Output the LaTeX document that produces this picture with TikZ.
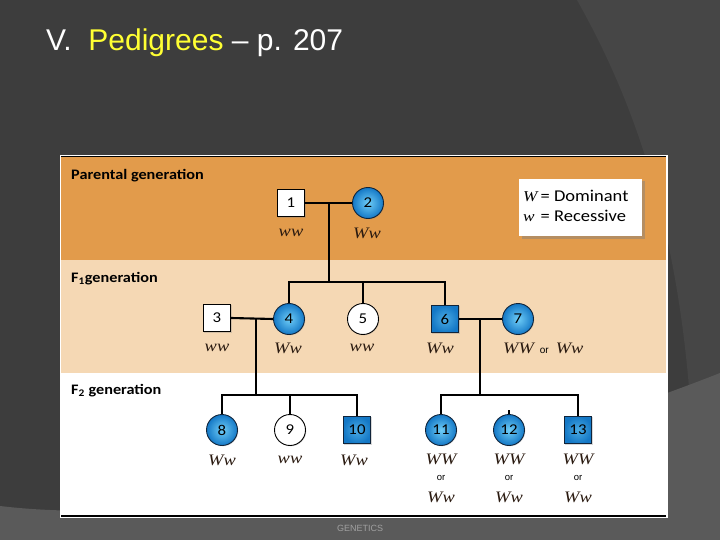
\documentclass[tikz,border=0pt]{standalone}
\usepackage{fontspec}
\newfontfamily\arialf{Liberation Sans}
\newfontfamily\labf{Carlito}[FakeStretch=1.12]
\newfontfamily\genof{Liberation Serif}[FakeStretch=1.15]
\usetikzlibrary{shadows}
\definecolor{bgdark}{HTML}{3D3D3D}
\definecolor{bgmid}{HTML}{464646}
\definecolor{bglight}{HTML}{5A5A5A}
\definecolor{orng}{HTML}{E29B4B}
\definecolor{peach}{HTML}{F5D8B4}
\definecolor{blueA}{HTML}{1478C6}
\definecolor{blueB}{HTML}{6FCDF7}
\definecolor{navyd}{HTML}{10243A}
\definecolor{ttl}{HTML}{FFFF33}
\definecolor{footc}{HTML}{A0A0A0}
\definecolor{genoc}{HTML}{2A1A10}
\begin{document}
\begin{tikzpicture}[x=1pt,y=-1pt,
  base/.style={inner sep=0pt, font=\labf\fontsize{15}{15}\selectfont, line width=0.9pt},
  sqbox/.style={base, rectangle, minimum size=27.5pt},
  circbox/.style={base, circle, minimum size=31pt},
  bluec/.style={inner color=blueB, outer color=blueA, draw=navyd},
  blues/.style={inner color=blueB!60!blueA, outer color=blueA, draw=navyd},
  whitef/.style={fill=white, draw=black},
  shad/.style={drop shadow={opacity=0.3, shadow xshift=0.8pt, shadow yshift=-0.8pt}},
  geno/.style={font=\genof\fontsize{16}{16}\selectfont\itshape, text=genoc, inner sep=0pt},
  orf/.style={font=\arialf\fontsize{9.5}{10}\selectfont, inner sep=0pt},
  genlab/.style={font=\labf\bfseries\fontsize{14.5}{15}\selectfont, anchor=base west, inner sep=0pt},
  conn/.style={line width=1.2pt, draw=black},
  thk/.style={line width=2.1pt, draw=black}
]
\useasboundingbox (0,0) rectangle (720,540);
% background
\fill[bgdark] (0,0) rectangle (720,540);
\fill[bgmid] (577,0) .. controls (622,80) and (675,200) .. (690,400) -- (720,400) -- (720,0) -- cycle;
\fill[bglight] (0,506) .. controls (200,530) and (500,460) .. (720,373) -- (720,540) -- (0,540) -- cycle;
% title and footer
\node[anchor=base west, inner sep=0pt, font=\arialf\fontsize{30}{36}\selectfont, text=white] (title) at (46,51) {V.\ \ \textcolor{ttl}{Pedigrees} – p. 207};
\node[font=\arialf\fontsize{9}{9}\selectfont, text=footc, inner sep=0pt] (foot) at (360,528) {GENETICS};
% panel
\fill[white] (60,155) rectangle (668,518);
\fill[orng] (61,157) rectangle (666,260);
\fill[peach] (61,260) rectangle (666,373);
\draw[line width=1.5pt] (61,156.5) -- (666,156.5);
\draw[line width=2pt] (61,516) -- (666,516);
% generation labels
\node[genlab] (lp) at (71,180) {Parental generation};
\node[genlab] (lf1) at (71,282) {F\textsubscript{1}generation};
\node[genlab] (lf2) at (71,394) {F\textsubscript{2} generation};
% legend
\node[fill=white, minimum width=123pt, minimum height=57pt, inner sep=0pt,
      drop shadow={opacity=0.45, shadow xshift=2.5pt, shadow yshift=-2.5pt}] (legend) at (580.5,207.5) {};
\node[anchor=base west, inner sep=0pt, font=\labf\fontsize{16.5}{16.5}\selectfont] (leg1) at (523,202)
  {\makebox[17.5pt][l]{\genof\fontsize{15}{15}\selectfont\itshape W}= Dominant};
\node[anchor=base west, inner sep=0pt, font=\labf\fontsize{16.5}{16.5}\selectfont] (leg2) at (523,222)
  {\makebox[17.5pt][l]{\genof\fontsize{15}{15}\selectfont\itshape w}= Recessive};
% parental
\node[sqbox, whitef, shad] (n1) at (291,203) {1};
\node[circbox, bluec, shad] (n2) at (368,203) {2};
\node[geno] (g1) at (291,233) {ww};
\node[geno] (g2) at (367,233) {Ww};
% F1
\node[sqbox, whitef, shad] (n3) at (217,318) {3};
\node[circbox, bluec, shad] (n4) at (289,319) {4};
\node[circbox, whitef, shad] (n5) at (363,319) {5};
\node[sqbox, blues, shad] (n6) at (445,319) {6};
\node[circbox, bluec, shad] (n7) at (518,319) {7};
\node[geno] (g3) at (217,348) {ww};
\node[geno] (g4) at (288,348) {Ww};
\node[geno] (g5) at (362,348) {ww};
\node[geno] (g6) at (440,348) {Ww};
\node[anchor=west, inner sep=0pt] (g7) at (503,348) {{\genof\fontsize{16}{16}\selectfont\itshape\color{genoc}WW}\hspace{6pt}{\arialf\fontsize{10}{10}\selectfont or}\hspace{7pt}{\genof\fontsize{16}{16}\selectfont\itshape\color{genoc}Ww}};
% F2
\node[circbox, bluec, shad] (n8) at (222,430) {8};
\node[circbox, whitef, shad] (n9) at (290,430) {9};
\node[sqbox, blues, shad] (n10) at (357,430) {10};
\node[circbox, bluec, shad] (n11) at (441,430) {11};
\node[circbox, bluec, shad] (n12) at (509,430) {12};
\node[sqbox, blues, shad] (n13) at (578,430) {13};
\node[geno] (g8) at (222,460) {Ww};
\node[geno] (g9) at (290,460) {ww};
\node[geno] (g10) at (354,460) {Ww};
\foreach \n/\x in {11/441,12/509,13/578}{
  \node[geno] (ga\n) at (\x,459) {WW};
  \node[orf] (go\n) at (\x,478) {or};
  \node[geno] (gb\n) at (\x,497) {Ww};
}
% connectors
\draw[conn] (n1.east) -- (n2.west);
\coordinate (d12) at (329,203);
\coordinate (s12) at (329,282);
\draw[conn] (d12) -- (s12);
\draw[conn] (n4.north) |- (s12) -| (n6.north);
\draw[conn] (n5.north) -- (n5.north |- s12);
\draw[thk] (n3.east) -- (n4.west);
\coordinate (d34) at (256,318.5);
\coordinate (s34) at (256,395);
\draw[thk] (d34) -- (s34);
\draw[conn] (n8.north) |- (s34) -| (n10.north);
\draw[conn] (n9.north) -- (n9.north |- s34);
\draw[thk] (n6.east) -- (n7.west);
\coordinate (d67) at (480,319);
\coordinate (s67) at (480,395);
\draw[thk] (d67) -- (s67);
\draw[conn] (n11.north) |- (s67) -| (n13.north);
\coordinate (t12) at (509,410);
\draw[conn] (n12.north) -- (t12);
\end{tikzpicture}
\end{document}
